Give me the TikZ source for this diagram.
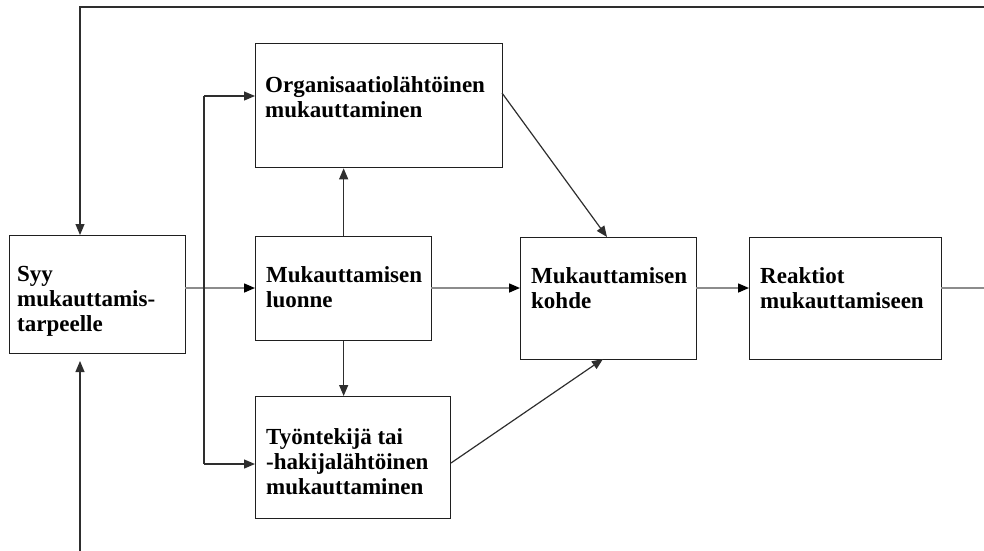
\documentclass[tikz,border=0pt]{standalone}
\usepackage{fontspec}
\setmainfont{Liberation Serif}
\usetikzlibrary{arrows.meta}
\begin{document}
\begin{tikzpicture}[x=1pt,y=-1pt,
  box/.style={draw=black!88, line width=1.3pt, inner sep=0pt, anchor=north west},
  txt/.style={anchor=base west, inner sep=0pt, align=left, font=\fontsize{23}{25}\selectfont\bfseries},
  darr/.style={draw=black!82, line width=1.2pt, -{Triangle[length=11pt,width=9pt]}},
  garr/.style={draw=black!45, line width=1.5pt, -{Triangle[length=11pt,width=9pt,fill=black,color=black]}},
  dline/.style={draw=black!82, line width=1.2pt}]
\useasboundingbox (0,0) rectangle (984,550);
\clip (0,0) rectangle (984,550);
% boxes
\node[box, minimum width=176pt, minimum height=118pt] (syy) at (9,235) {};
\node[box, minimum width=247pt, minimum height=124pt] (org) at (255,43) {};
\node[box, minimum width=176pt, minimum height=104pt] (luo) at (255,236) {};
\node[box, minimum width=195pt, minimum height=122pt] (tyo) at (255,396) {};
\node[box, minimum width=176pt, minimum height=122pt] (koh) at (520,237) {};
\node[box, minimum width=192pt, minimum height=122pt] (rea) at (749,237) {};
% texts (anchored at the baseline of their last line)
\node[txt] (syyt) at (17,331) {Syy\\mukauttamis-\\tarpeelle};
\node[txt] (orgt) at (265,117) {Organisaatiolähtöinen\\mukauttaminen};
\node[txt] (luot) at (266,307) {Mukauttamisen\\luonne};
\node[txt] (tyot) at (266,494) {Työntekijä tai\\-hakijalähtöinen\\mukauttaminen};
\node[txt] (koht) at (531,308) {Mukauttamisen\\kohde};
\node[txt] (reat) at (760,308) {Reaktiot\\mukauttamiseen};
% coordinates
\coordinate (topR) at (1000,7);
\coordinate (syyIn) at (80,235);
\coordinate (botIn) at (80,361);
\coordinate (botS) at (80,560);
\coordinate (syyOut) at (185,288);
\coordinate (br) at (204,288);
\coordinate (orgIn) at (255,96);
\coordinate (tyoIn) at (255,464);
\coordinate (luoIn) at (255,288);
\coordinate (luoOut) at (431,288);
\coordinate (kohIn) at (520,288);
\coordinate (kohOut) at (696,288);
\coordinate (reaIn) at (749,288);
\coordinate (reaOut) at (941,288);
\coordinate (outR) at (995,288);
\coordinate (orgOut) at (502,93);
\coordinate (kohTop) at (607,237);
\coordinate (tyoOut) at (451,463);
\coordinate (kohBot) at (603,359);
% connectors
\draw[darr] (topR) -| (syyIn);
\draw[darr] (botS) -- (botIn);
\draw[garr] (syyOut) -- (luoIn);
\draw[dline] (br |- orgIn) -- (br |- tyoIn);
\draw[darr] (br |- orgIn) -- (orgIn);
\draw[darr] (br |- tyoIn) -- (tyoIn);
\draw[darr] (luo.north) -- (luo.north |- org.south);
\draw[darr] (luo.south) -- (luo.south |- tyo.north);
\draw[garr] (luoOut) -- (kohIn);
\draw[garr] (kohOut) -- (reaIn);
\draw[garr] (reaOut) -- (outR);
\draw[darr] (orgOut) -- (kohTop);
\draw[darr] (tyoOut) -- (kohBot);
\end{tikzpicture}
\end{document}
